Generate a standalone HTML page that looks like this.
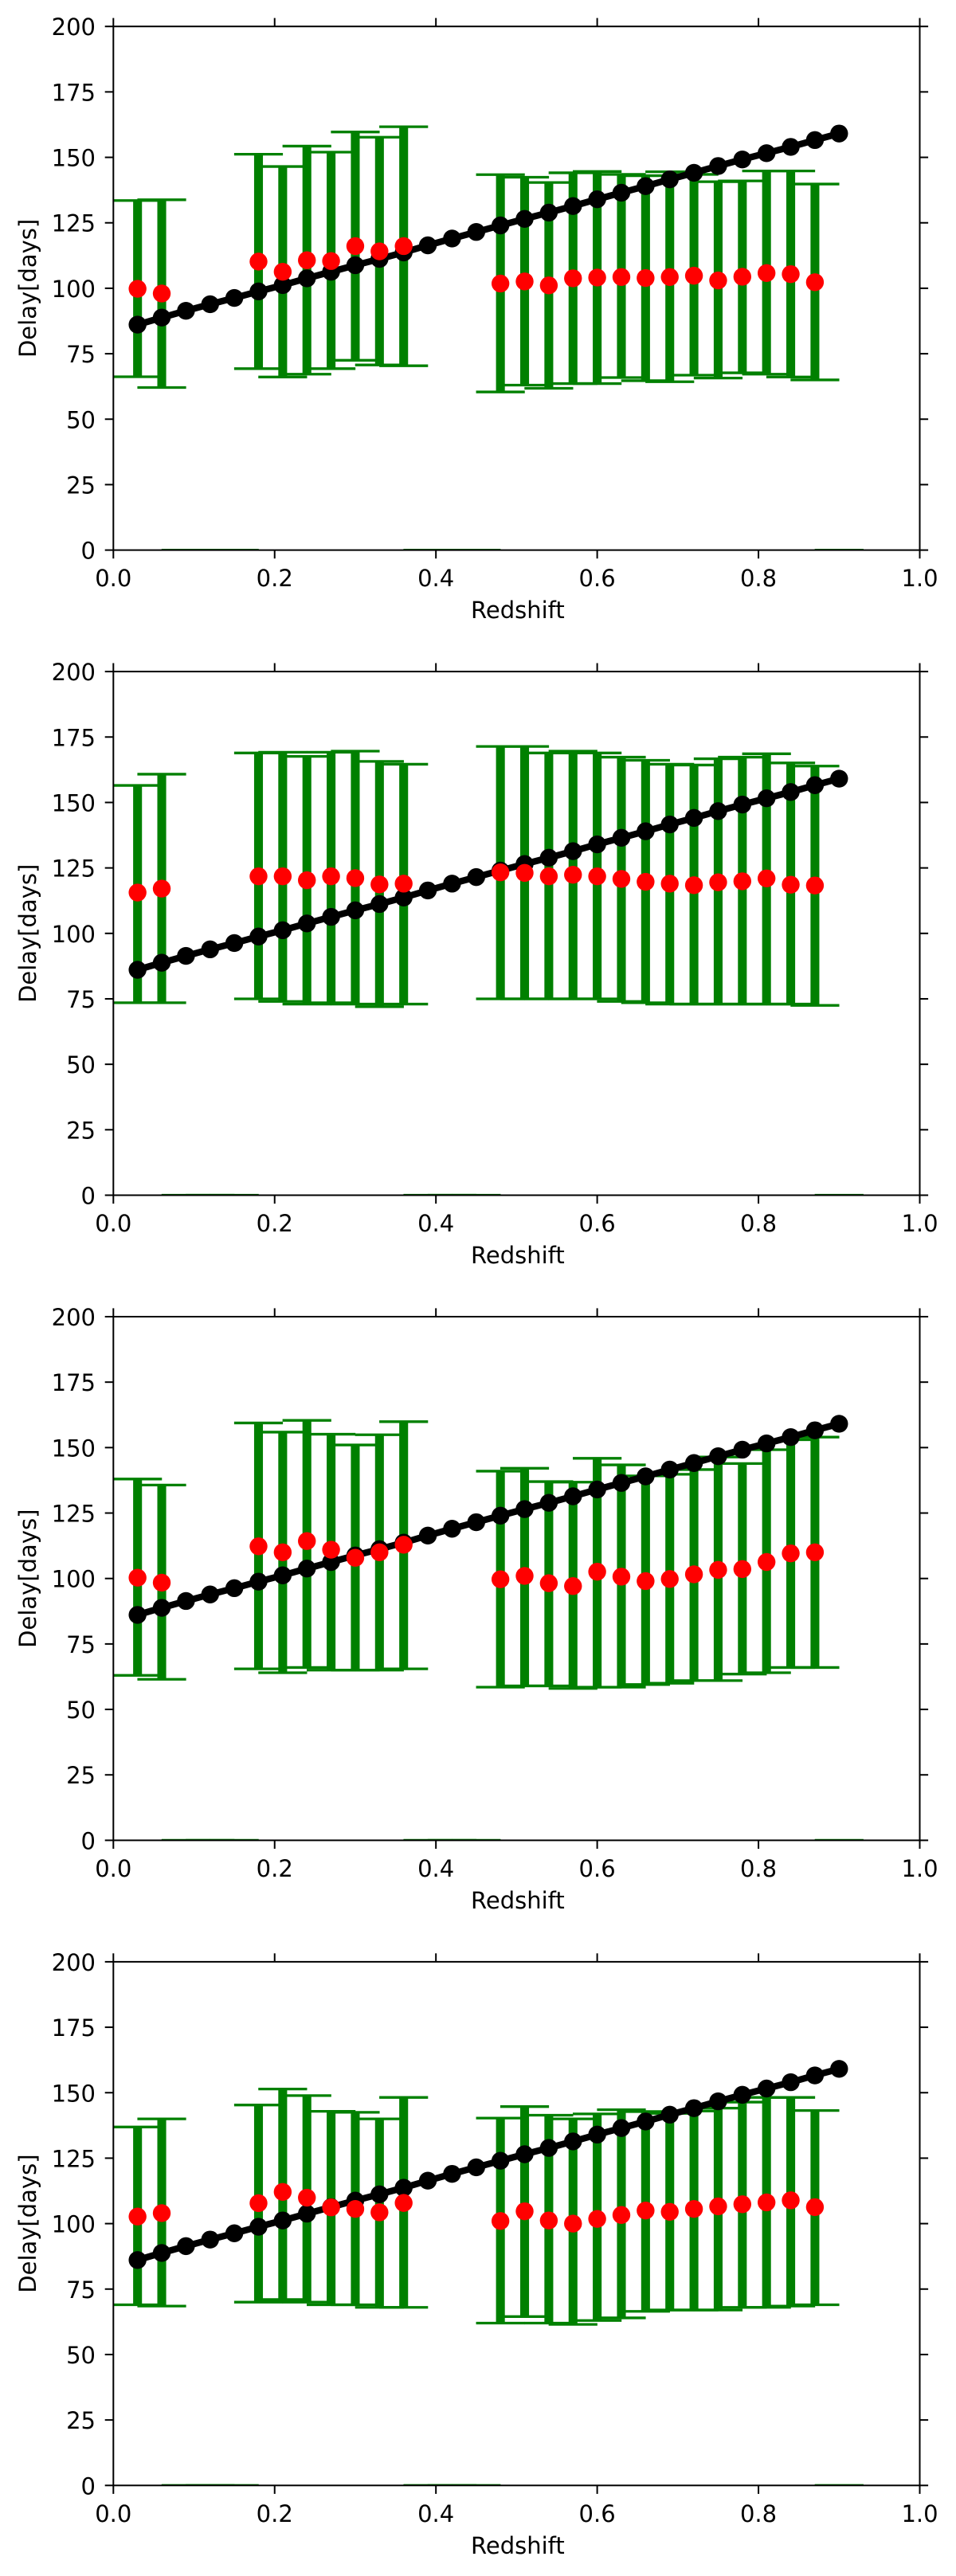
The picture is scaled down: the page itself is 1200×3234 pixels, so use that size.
<!DOCTYPE html>
<html lang="en">
<head>
<meta charset="utf-8">
<title>Delay vs Redshift panels</title>
<style>
html,body{margin:0;padding:0;background:#fff;}
svg{display:block;}
text{font-family:"DejaVu Sans","Liberation Sans",sans-serif;font-size:29px;fill:#000;}
</style>
</head>
<body>
<svg id="figure" xmlns="http://www.w3.org/2000/svg" width="1200" height="3234" viewBox="0 0 1200 3234"></svg>
<script>
const xTickValues = [0, 0.2, 0.4, 0.6, 0.8, 1.0];
const xTickLabels = ["0.0", "0.2", "0.4", "0.6", "0.8", "1.0"];
const yTickValues = [0, 25, 50, 75, 100, 125, 150, 175, 200];
const yTickLabels = ["0", "25", "50", "75", "100", "125", "150", "175", "200"];
const xAxisTitle = "Redshift";
const yAxisTitle = "Delay[days]";

const modelRedshift = [0.03,0.06,0.09,0.12,0.15,0.18,0.21,0.24,0.27,0.30,0.33,0.36,0.39,0.42,0.45,0.48,0.51,0.54,0.57,0.60,0.63,0.66,0.69,0.72,0.75,0.78,0.81,0.84,0.87,0.90];
const modelDelay = [86.1,88.8,91.4,93.9,96.3,98.8,101.2,103.8,106.3,108.8,111.2,113.7,116.4,119,121.5,124,126.5,128.9,131.4,134,136.5,139,141.6,144.1,146.7,149.2,151.6,154,156.6,159.1];

const obsRedshift = [0.03,0.06,0.18,0.21,0.24,0.27,0.30,0.33,0.36,0.48,0.51,0.54,0.57,0.60,0.63,0.66,0.69,0.72,0.75,0.78,0.81,0.84,0.87];
const emptyRedshift = [0.09,0.12,0.15,0.39,0.42,0.45,0.90];

const panel1Delay = [99.8,98.0,110.2,106.3,110.7,110.4,116.1,114.1,116.1,101.8,102.6,101.1,103.8,104.1,104.3,103.9,104.3,104.8,103.0,104.4,105.8,105.4,102.3];
const panel1Upper = [133.5,133.8,151.2,146.5,154.3,152,159.7,157.7,161.7,143.4,142.4,140.4,144.1,144.6,143.5,143.0,144.5,143.5,140.7,141,144.8,144.8,139.8];
const panel1Lower = [66.2,62.1,69.3,66.1,67.2,69.3,72.5,70.7,70.4,60.4,63.0,61.8,63.6,63.6,65.9,64.7,64.3,66.8,65.7,67.7,67.2,66.1,65.0];

const panel2Delay = [115.6,117.1,121.8,121.8,120.3,121.8,121.1,118.7,119,123.3,123.1,121.8,122.4,121.8,120.8,119.7,119,118.4,119.5,119.9,121,118.6,118.3];
const panel2Upper = [156.5,160.8,168.9,169.2,167.6,169.2,169.6,165.7,164.6,171.4,171.4,168.9,169.6,168.9,167.3,166.1,164.6,164.3,166.7,167.3,168.6,165.1,163.9];
const panel2Lower = [73.5,73.5,75,74,73,73.5,73,72,73,75,75,75,75,75,74,73.5,73,73,73,73,73,73,72.5];

const panel3Delay = [100.3,98.4,112.3,110,114.3,111,107.9,110,112.9,99.7,101,98.2,97.1,102.6,100.7,99,99.8,101.6,103.3,103.6,106.3,109.6,110];
const panel3Upper = [138,135.7,159.4,155.9,160.4,155.1,151,154.9,159.9,141,142.1,137,136.8,145.9,143.4,139.2,139.8,141.6,146.4,143.9,149.2,153,154];
const panel3Lower = [63,61.5,65.5,64,66,65,65,65,65.5,58.5,59,59,58,58.5,58.5,59.5,60,61,61,63.5,64,66,66];

const panel4Delay = [102.7,104,107.8,112.1,109.9,106.2,105.6,104.3,107.9,101,104.7,101.2,100,101.8,103.3,105,104.5,105.6,106.6,107.4,108.1,108.9,106.3];
const panel4Upper = [136.9,140,145.3,151.4,148.9,142.9,142.5,140,148.2,140.3,144.7,141.4,140,141.9,143.5,142.8,142.1,143,144.1,146.4,148.2,148.2,143.2];
const panel4Lower = [69,68.5,70,71,70,69,69,68,68,62,64.5,62,61.5,63,64,66.5,67,67,67,68,68,68.5,69];

const panelDelays = [panel1Delay, panel2Delay, panel3Delay, panel4Delay];
const panelUppers = [panel1Upper, panel2Upper, panel3Upper, panel4Upper];
const panelLowers = [panel1Lower, panel2Lower, panel3Lower, panel4Lower];

const SVGNS = "http://www.w3.org/2000/svg";
const svg = document.getElementById("figure");
const plotLeft = 142.3;
const plotWidth = 1012.2;
const plotHeight = 657.4;
const firstTop = 33.2;
const panelGap = 809.9;
const tickLen = 10.6;
const capHalf = 30.6;
const green = "#008000";

function sx(z){ return plotLeft + z * plotWidth; }
function syFor(top){ return function(v){ return top + plotHeight - v / 200 * plotHeight; }; }
function mk(parent, tag, attrs){
  const el = document.createElementNS(SVGNS, tag);
  for (const k in attrs) el.setAttribute(k, attrs[k]);
  parent.appendChild(el);
  return el;
}

panelDelays.forEach(function(delay, p){
  const top = firstTop + p * panelGap;
  const bottom = top + plotHeight;
  const right = plotLeft + plotWidth;
  const sy = syFor(top);
  const upper = panelUppers[p];
  const lower = panelLowers[p];

  const g = mk(svg, "g", {});
  
  

  const defs = mk(g, "defs", {});
  const clip = mk(defs, "clipPath", {id: "clip" + p});
  mk(clip, "rect", {x: plotLeft, y: top, width: plotWidth, height: plotHeight});

  const bars = mk(g, "g", {"clip-path": "url(#clip" + p + ")"});
  
  

  obsRedshift.forEach(function(z, i){
    const bar = mk(bars, "line", {x1: sx(z), x2: sx(z), y1: sy(lower[i]), y2: sy(upper[i]), stroke: green, "stroke-width": 11.1});
    
    
    const capTop = mk(bars, "line", {x1: sx(z) - capHalf, x2: sx(z) + capHalf, y1: sy(upper[i]), y2: sy(upper[i]), stroke: green, "stroke-width": 3.3});
    
    
    const capBottom = mk(bars, "line", {x1: sx(z) - capHalf, x2: sx(z) + capHalf, y1: sy(lower[i]), y2: sy(lower[i]), stroke: green, "stroke-width": 3.3});
    
    
  });

  emptyRedshift.forEach(function(z){
    const cap = mk(bars, "line", {x1: sx(z) - capHalf, x2: sx(z) + capHalf, y1: sy(0), y2: sy(0), stroke: green, "stroke-width": 3.3});
    
    
  });

  const pts = modelRedshift.map(function(z, i){ return sx(z) + "," + sy(modelDelay[i]); }).join(" ");
  const modelLine = mk(g, "polyline", {points: pts, fill: "none", stroke: "#000", "stroke-width": 8.3, "stroke-linejoin": "round"});
  
  
  modelRedshift.forEach(function(z, i){
    const c = mk(g, "circle", {cx: sx(z), cy: sy(modelDelay[i]), r: 11.2, fill: "#000"});
    
    
  });

  obsRedshift.forEach(function(z, i){
    const c = mk(g, "circle", {cx: sx(z), cy: sy(delay[i]), r: 11.2, fill: "#ff0000"});
    
    
  });

  const frame = mk(g, "rect", {x: plotLeft, y: top, width: plotWidth, height: plotHeight, fill: "none", stroke: "#000", "stroke-width": 2});
  
  

  xTickValues.forEach(function(v, i){
    const x = sx(v);
    const t1 = mk(g, "line", {x1: x, x2: x, y1: bottom, y2: bottom + tickLen, stroke: "#000", "stroke-width": 2});
    
    
    const t2 = mk(g, "line", {x1: x, x2: x, y1: top, y2: top - tickLen, stroke: "#000", "stroke-width": 2});
    
    
    const lab = mk(g, "text", {x: x, y: bottom + 45.5, "text-anchor": "middle"});
    
    
    lab.textContent = xTickLabels[i];
  });

  yTickValues.forEach(function(v, i){
    const y = sy(v);
    const t1 = mk(g, "line", {x1: plotLeft, x2: plotLeft - tickLen, y1: y, y2: y, stroke: "#000", "stroke-width": 2});
    
    
    const t2 = mk(g, "line", {x1: right, x2: right + tickLen, y1: y, y2: y, stroke: "#000", "stroke-width": 2});
    
    
    const lab = mk(g, "text", {x: 120, y: y + 11, "text-anchor": "end"});
    
    
    lab.textContent = yTickLabels[i];
  });

  const xt = mk(g, "text", {x: plotLeft + plotWidth / 2 + 1.5, y: bottom + 85.5, "text-anchor": "middle"});
  
  
  xt.textContent = xAxisTitle;

  const yMid = top + plotHeight / 2;
  const yt = mk(g, "text", {x: 45, y: yMid, "text-anchor": "middle", transform: "rotate(-90 45 " + yMid + ")"});
  
  
  yt.textContent = yAxisTitle;
});
</script>
</body>
</html>
